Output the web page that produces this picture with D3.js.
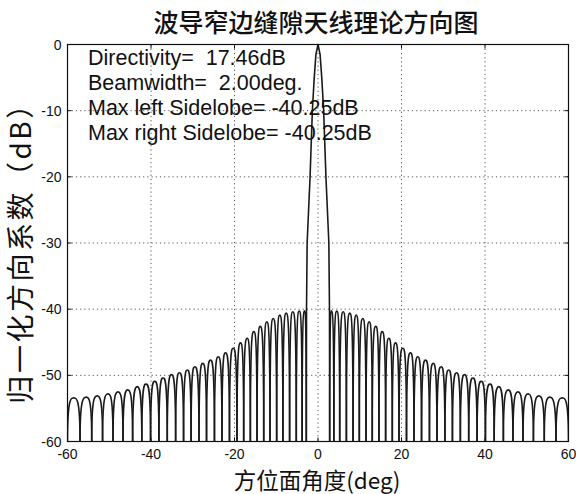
<!DOCTYPE html>
<html>
<head>
<meta charset="utf-8">
<script src="https://cdn.jsdelivr.net/npm/d3@7"></script>
<style>
  body { margin: 0; background: #fff; }
  svg { display: block; }
</style>
</head>
<body>
<svg id="chart" width="576" height="494"></svg>
<script>
// Axis ticks
const xTicks = [-60, -40, -20, 0, 20, 40, 60];
const yTicks = [-60, -50, -40, -30, -20, -10, 0];

// Main beam outline (angle in deg, normalized gain in dB)
const mainBeamAngle = [-2.8, -2.75, -2.6, -1.9, -1.35, -0.9, -0.5, 0, 0.5, 0.9, 1.35, 1.9, 2.6, 2.75, 2.8];
const mainBeamDb    = [-60, -40, -30, -20, -10, -5, -1.5, 0, -1.5, -5, -10, -20, -30, -40, -60];

// Right-hand sidelobes: peak angles, peak levels, and the nulls that bound each lobe
const rightPeakAngle = [3.2, 4.5, 6.04, 7.62, 9.15, 10.73, 12.26, 13.84, 15.37, 16.96,
                        18.56, 20.31, 22.16, 23.9, 25.75, 27.6, 29.5, 31.3, 33.2, 35.1,
                        37.1, 39.1, 41.2, 43.3, 45.6, 47.9, 50.3, 52.9, 55.5, 58.5];
const rightPeakDb    = [-40.25, -40.3, -40.4, -40.6, -40.9, -41.4, -41.9, -42.6, -43.4, -44.4,
                        -45.1, -45.9, -46.6, -47.2, -47.7, -48.2, -48.7, -49.2, -49.6, -49.9,
                        -50.4, -50.9, -51.3, -51.7, -52.2, -52.5, -52.8, -53.1, -53.3, -53.4];
const rightNullAngle = [2.8, 3.8, 5.2, 6.8, 8.4, 9.9, 11.5, 13.0, 14.6, 16.2, 17.8,
                        19.4, 21.2, 23.0, 24.8, 26.7, 28.5, 30.4, 32.2, 34.1, 36.1,
                        38.1, 40.1, 42.2, 44.4, 46.7, 49.1, 51.6, 54.2, 57.0, 60.0];

// Left-hand sidelobes (ordered from -60 deg toward boresight)
const leftPeakAngle = [-58.5, -55.5, -52.9, -50.3, -47.9, -45.6, -43.3, -41.2, -39.1, -37.1,
                       -35.1, -33.2, -31.3, -29.5, -27.6, -25.75, -23.9, -22.16, -20.31, -18.56,
                       -16.96, -15.37, -13.84, -12.26, -10.73, -9.15, -7.62, -6.04, -4.5, -3.2];
const leftPeakDb    = [-53.4, -53.3, -53.1, -52.8, -52.5, -52.2, -51.7, -51.3, -50.9, -50.4,
                       -49.9, -49.6, -49.2, -48.7, -48.2, -47.7, -47.2, -46.6, -45.9, -45.1,
                       -44.4, -43.4, -42.6, -41.9, -41.4, -40.9, -40.6, -40.4, -40.3, -40.25];
const leftNullAngle = [-60.0, -57.0, -54.2, -51.6, -49.1, -46.7, -44.4, -42.2, -40.1, -38.1, -36.1,
                       -34.1, -32.2, -30.4, -28.5, -26.7, -24.8, -23.0, -21.2, -19.4, -17.8,
                       -16.2, -14.6, -13.0, -11.5, -9.9, -8.4, -6.8, -5.2, -3.8, -2.8];

const annotations = [
  "Directivity=  17.46dB",
  "Beamwidth=  2.00deg.",
  "Max left Sidelobe= -40.25dB",
  "Max right Sidelobe= -40.25dB"
];

const titleText = "波导窄边缝隙天线理论方向图";
const xLabelText = "方位面角度(deg)";
const yLabelText = "归一化方向系数（dB）";

// Layout
const svg = d3.select("#chart");
const plot = { left: 67.5, right: 568.5, top: 44.5, bottom: 441.5 };
const floorDb = -60;

const x = d3.scaleLinear().domain([-60, 60]).range([plot.left, plot.right]);
const y = d3.scaleLinear().domain([-60, 0]).range([plot.bottom, plot.top]);

const latin = "'Liberation Sans', Arial, sans-serif";
const cjk = "'Noto Sans CJK SC', 'Noto Sans', sans-serif";

svg.append("rect").attr("width", 576).attr("height", 494).attr("fill", "#fff");

// Dotted grid
const grid = svg.append("g").attr("stroke", "#555").attr("stroke-width", 1)
  .attr("stroke-dasharray", "1.2,3");
grid.selectAll("line.vx").data(xTicks.slice(1, -1)).join("line")
  .attr("x1", d => x(d)).attr("x2", d => x(d))
  .attr("y1", plot.top).attr("y2", plot.bottom);
grid.selectAll("line.hy").data(yTicks.slice(1, -1)).join("line")
  .attr("x1", plot.left).attr("x2", plot.right)
  .attr("y1", d => y(d)).attr("y2", d => y(d));

// Clip for the pattern
svg.append("clipPath").attr("id", "plotClip").append("rect")
  .attr("x", plot.left).attr("y", plot.top - 2)
  .attr("width", plot.right - plot.left).attr("height", plot.bottom - plot.top + 2);

const pattern = svg.append("g").attr("clip-path", "url(#plotClip)")
  .attr("fill", "none").attr("stroke", "#1a1a1a").attr("stroke-width", 1.6)
  .attr("stroke-linejoin", "round");

// Each sidelobe rises steeply out of its nulls and rounds over at its peak
function lobePath(nL, pk, pkDb, nR) {
  const p = d3.path();
  const xL = x(nL), xP = x(pk), xR = x(nR);
  const yB = y(floorDb), yP = y(pkDb);
  p.moveTo(xL, yB);
  p.bezierCurveTo(xL, yP, xP - 0.45 * (xP - xL), yP, xP, yP);
  p.bezierCurveTo(xP + 0.45 * (xR - xP), yP, xR, yP, xR, yB);
  return p.toString();
}

const leftLobes = leftPeakAngle.map((a, i) => ({ nL: leftNullAngle[i], pk: a, db: leftPeakDb[i], nR: leftNullAngle[i + 1] }));
const rightLobes = rightPeakAngle.map((a, i) => ({ nL: rightNullAngle[i], pk: a, db: rightPeakDb[i], nR: rightNullAngle[i + 1] }));

pattern.selectAll("path.lobe").data(leftLobes.concat(rightLobes)).join("path")
  .attr("class", "lobe")
  .attr("d", d => lobePath(d.nL, d.pk, d.db, d.nR));

const beamLine = d3.line().x(d => x(d[0])).y(d => y(d[1]));
pattern.append("path")
  .attr("d", beamLine(mainBeamAngle.map((a, i) => [a, mainBeamDb[i]])));

// Frame
svg.append("rect")
  .attr("x", plot.left).attr("y", plot.top)
  .attr("width", plot.right - plot.left).attr("height", plot.bottom - plot.top)
  .attr("fill", "none").attr("stroke", "#111").attr("stroke-width", 1.2);

// Inner tick marks on all four sides
const ticks = svg.append("g").attr("stroke", "#111").attr("stroke-width", 1);
ticks.selectAll("line.xb").data(xTicks).join("line")
  .attr("x1", d => x(d)).attr("x2", d => x(d)).attr("y1", plot.bottom).attr("y2", plot.bottom - 4);
ticks.selectAll("line.xt").data(xTicks).join("line")
  .attr("x1", d => x(d)).attr("x2", d => x(d)).attr("y1", plot.top).attr("y2", plot.top + 4);
ticks.selectAll("line.yl").data(yTicks).join("line")
  .attr("x1", plot.left).attr("x2", plot.left + 4).attr("y1", d => y(d)).attr("y2", d => y(d));
ticks.selectAll("line.yr").data(yTicks).join("line")
  .attr("x1", plot.right).attr("x2", plot.right - 4).attr("y1", d => y(d)).attr("y2", d => y(d));

// Tick labels
svg.append("g").selectAll("text").data(xTicks).join("text")
  .attr("x", d => x(d)).attr("y", 459)
  .attr("text-anchor", "middle")
  .attr("font-family", latin).attr("font-size", 14).attr("fill", "#111")
  .text(d => d);
svg.append("g").selectAll("text").data(yTicks).join("text")
  .attr("x", plot.left - 6).attr("y", d => y(d) + 5)
  .attr("text-anchor", "end")
  .attr("font-family", latin).attr("font-size", 14).attr("fill", "#111")
  .text(d => d);

// Annotation block
svg.append("g").selectAll("text").data(annotations).join("text")
  .attr("x", 88).attr("y", (d, i) => 65 + i * 25)
  .attr("font-family", latin).attr("font-size", 21.5).attr("fill", "#111")
  .style("white-space", "pre")
  .text(d => d);

// Title and axis labels
svg.append("text")
  .attr("x", 316).attr("y", 32)
  .attr("text-anchor", "middle")
  .attr("font-family", cjk).attr("font-size", 25).attr("font-weight", 500).attr("fill", "#111")
  .text(titleText);

svg.append("text")
  .attr("x", 317).attr("y", 489)
  .attr("text-anchor", "middle")
  .attr("font-family", cjk).attr("font-size", 22.5).attr("fill", "#111")
  .text(xLabelText);

svg.append("text")
  .attr("transform", "translate(31,246) rotate(-90)")
  .attr("text-anchor", "middle")
  .attr("font-family", cjk).attr("font-size", 28).attr("letter-spacing", 2.5).attr("fill", "#111")
  .text(yLabelText);
</script>
</body>
</html>
